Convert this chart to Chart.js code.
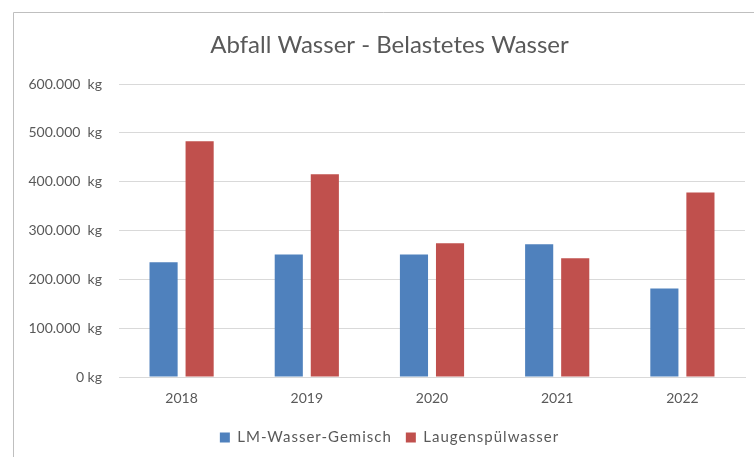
<!DOCTYPE html>
<html>
<head>
<meta charset="utf-8">
<script src="https://cdn.jsdelivr.net/npm/chart.js@4/dist/chart.umd.min.js"></script>
<style>
html,body{margin:0;padding:0;background:#fff;}
#wrap{width:754px;height:457px;position:relative;}
</style>
</head>
<body>
<div id="wrap"><canvas id="c" width="754" height="457"></canvas></div>
<script>
const categories = ['2018', '2019', '2020', '2021', '2022'];
const lmWasserGemisch = [235000, 251000, 251000, 272000, 181000];
const laugenspuelwasser = [483000, 415000, 274000, 243000, 378000];
const yTickValues = [0, 100000, 200000, 300000, 400000, 500000, 600000];
const yTickLabels = ['0 kg', '100.000  kg', '200.000  kg', '300.000  kg', '400.000  kg', '500.000  kg', '600.000  kg'];
const seriesNames = ['LM-Wasser-Gemisch', 'Laugenspülwasser'];
const chartTitle = 'Abfall Wasser - Belastetes Wasser';

const FONT = 'Lato';
const TXT = '#595959';

function withSpacing(fn, sp) {
  return function (...a) {
    const c = this.ctx || this.chart.ctx;
    const prev = c.letterSpacing;
    c.letterSpacing = sp;
    try { return fn.apply(this, a); } finally { c.letterSpacing = prev; }
  };
}

const frame = {
  id: 'frame',
  beforeInit(chart) { chart.ctx.letterSpacing = '0.4px'; },
  beforeUpdate(chart) {
    const lg = chart.legend;
    if (lg && !lg._spaced) {
      lg._spaced = true;
      lg.fit = withSpacing(lg.fit, '1px');
      lg.draw = withSpacing(lg.draw, '1px');
    }
  },
  beforeDraw(chart) {
    const ctx = chart.ctx;
    ctx.save();
    ctx.fillStyle = '#fff';
    ctx.fillRect(0, 0, chart.width, chart.height);
    ctx.strokeStyle = '#bfbfbf';
    ctx.lineWidth = 1;
    ctx.beginPath();
    ctx.moveTo(13.5, chart.height);
    ctx.lineTo(13.5, 12.5);
    ctx.lineTo(chart.width, 12.5);
    ctx.stroke();
    ctx.restore();
  }
};

new Chart(document.getElementById('c'), {
  type: 'bar',
  data: {
    labels: categories,
    datasets: [
      { label: seriesNames[0], data: lmWasserGemisch, backgroundColor: '#4F81BD', categoryPercentage: 0.576, barPercentage: 0.78 },
      { label: seriesNames[1], data: laugenspuelwasser, backgroundColor: '#C0504D', categoryPercentage: 0.576, barPercentage: 0.78 }
    ]
  },
  options: {
    responsive: false,
    animation: false,
    layout: { padding: { left: 34, right: 9, top: 13, bottom: 2 } },
    plugins: {
      title: {
        display: true, text: chartTitle, color: TXT,
        font: { family: FONT, size: 24, weight: 'normal' },
        padding: { top: 17.5, bottom: 24.7 }
      },
      legend: {
        position: 'bottom',
        labels: {
          color: TXT, boxWidth: 10, boxHeight: 10, padding: 14,
          font: { family: FONT, size: 15 }
        }
      },
      tooltip: { enabled: false }
    },
    scales: {
      x: {
        grid: { display: false, drawTicks: false },
        border: { color: '#d9d9d9' },
        ticks: { color: TXT, font: { family: FONT, size: 14 }, padding: 13 },
        afterFit(s) { s.height = 39; }
      },
      y: {
        min: 0, max: 600000,
        afterBuildTicks(s) { s.ticks = yTickValues.map(v => ({ value: v })); },
        grid: { color: '#d9d9d9', drawTicks: false },
        border: { display: false },
        ticks: {
          color: TXT, font: { family: FONT, size: 14 }, padding: 17,
          callback(v) { const i = yTickValues.indexOf(v); return i >= 0 ? yTickLabels[i] : ''; }
        },
        afterFit(s) { s.width = 85; s._computeLabelArea = () => undefined; }
      }
    }
  },
  plugins: [frame]
});
</script>
</body>
</html>
